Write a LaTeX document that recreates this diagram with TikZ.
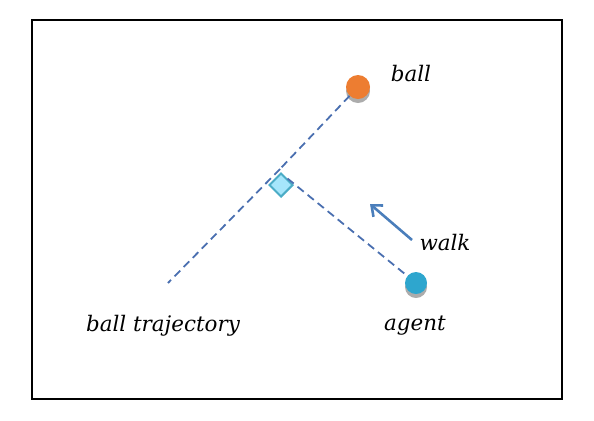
\documentclass[tikz,border=0pt]{standalone}
\usepackage{fontspec}
\setmainfont{DejaVu Serif}
\usetikzlibrary{shapes.geometric,arrows.meta}
\definecolor{dashblue}{HTML}{4A6FB0}
\definecolor{arrblue}{HTML}{4A7EBB}
\definecolor{ballorange}{HTML}{ED7D31}
\definecolor{agentblue}{HTML}{2EA6CE}
\definecolor{diafill}{HTML}{A6E6FB}
\definecolor{diadraw}{HTML}{4BACC6}
\tikzset{
  lbl/.style={font=\itshape\fontsize{21.5}{24}\selectfont, inner sep=0pt},
  traj/.style={draw=dashblue, line width=1.8pt, dash pattern=on 8pt off 5pt},
  ballnode/.style={circle, fill=ballorange, minimum size=24bp, inner sep=0pt},
  agentnode/.style={circle, fill=agentblue, minimum size=22bp, inner sep=0pt},
  shadowc/.style={circle, fill=gray!65, inner sep=0pt},
}
\begin{document}
\begin{tikzpicture}[x=1bp,y=-1bp]
\useasboundingbox (0,0) rectangle (594,420);
\draw[line width=2pt] (32,20) rectangle (562,399);
\coordinate (tend) at (168,283);
\coordinate (foot) at (280,169);
\node[diamond, fill=diafill, draw=diadraw, line width=2pt, minimum size=24bp, inner sep=0pt] (dia) at (281,185) {};
% shadows
\node[shadowc, minimum size=24bp] at (358,91) {};
\node[shadowc, minimum size=22bp] at (416,287) {};
\node[ballnode] (ball) at (358,87) {};
\node[agentnode] (agent) at (416,283) {};
\draw[traj] (ball) -- (foot);
\draw[traj] (foot) -- (tend);
\draw[traj] (dia.north east) -- (agent);
\coordinate (ws) at (412,240);
\coordinate (we) at (370,204);
\draw[arrblue, line width=2.6pt, -{Straight Barb[length=9pt,width=15pt]}] (ws) -- (we);
\node[lbl] (lball) at (411,74) {ball};
\node[lbl] (lwalk) at (445,243) {walk};
\node[lbl] (ltraj) at (163,326) {ball trajectory};
\node[lbl] (lagent) at (415,326) {agent};
\end{tikzpicture}
\end{document}
